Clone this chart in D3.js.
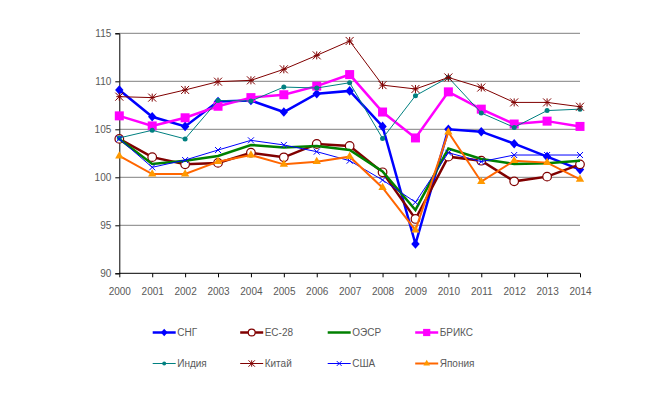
<!DOCTYPE html>
<html><head><meta charset="utf-8">
<script src="https://cdn.jsdelivr.net/npm/d3@7"></script>
<style>body{margin:0;background:#fff;} text{font-family:"Liberation Sans",Arial,sans-serif;}</style>
</head><body>
<svg id="c" width="648" height="397"></svg>
<script>
const years = ["2000","2001","2002","2003","2004","2005","2006","2007","2008","2009","2010","2011","2012","2013","2014"];
const yTicks = [90,95,100,105,110,115];
const cis   = [109.1,106.3,105.3,107.9,108.0,106.8,108.7,109.0,105.3,93.05,105.0,104.75,103.5,102.15,100.8];
const eu28  = [104.0,102.1,101.35,101.5,102.56,102.08,103.47,103.26,100.52,95.66,102.15,101.73,99.58,100.07,101.35];
const oecd  = [104.0,101.39,101.73,102.22,103.37,103.1,103.26,102.84,100.6,96.6,103.0,101.9,101.39,101.46,101.73];
const brics = [106.4,105.35,106.2,107.4,108.3,108.6,109.5,110.7,106.8,104.1,108.9,107.1,105.55,105.85,105.3];
const india = [104.1,104.9,104.0,108.0,107.95,109.4,109.3,109.85,104.05,108.5,110.4,106.7,105.2,106.95,107.1];
const china = [108.4,108.3,109.1,109.96,110.1,111.25,112.7,114.2,109.6,109.2,110.4,109.35,107.8,107.8,107.35];
const usa   = [104.0,101.04,101.8,102.84,103.85,103.37,102.67,101.73,99.72,97.4,102.56,101.63,102.32,102.32,102.32];
const japan = [102.22,100.34,100.34,101.63,102.32,101.35,101.63,102.15,98.92,94.5,104.7,99.54,101.73,101.53,99.79];

const series = [
  {name:"СНГ", values:cis, color:"#0000FF", width:2.5, marker:"diamond", mfill:"#0000FF", mstroke:"#0000FF"},
  {name:"ЕС-28", values:eu28, color:"#800000", width:2.5, marker:"circle", mfill:"#FFFFFF", mstroke:"#800000"},
  {name:"ОЭСР", values:oecd, color:"#008000", width:2.5, marker:"none"},
  {name:"БРИКС", values:brics, color:"#FF00FF", width:2.5, marker:"square", mfill:"#FF00FF", mstroke:"#FF00FF"},
  {name:"Индия", values:india, color:"#008080", width:1, marker:"dot", mfill:"#008080", mstroke:"#008080"},
  {name:"Китай", values:china, color:"#800000", width:1, marker:"star", mfill:"none", mstroke:"#800000"},
  {name:"США", values:usa, color:"#0000FF", width:1, marker:"x", mfill:"none", mstroke:"#0000FF"},
  {name:"Япония", values:japan, color:"#FF6600", width:2, marker:"triangle", mfill:"#FF9900", mstroke:"#FF9900"}
];

const svg = d3.select("#c");
const L = 119.3, R = 580, T = 33.3, B = 273.3;
const x = d3.scalePoint().domain(years).range([L, R]);
const y = d3.scaleLinear().domain([90,115]).range([B, T]);
const tc = "#595959";

svg.append("g").selectAll("line").data(yTicks.filter(d=>d>90)).join("line")
  .attr("x1", L).attr("x2", R).attr("y1", d=>y(d)).attr("y2", d=>y(d))
  .attr("stroke", "#808080").attr("stroke-width", 1);

const ya = svg.append("g").attr("transform", `translate(${L},0)`)
  .call(d3.axisLeft(y).tickValues(yTicks).tickSize(4).tickPadding(4));
ya.select(".domain").attr("stroke","#000");
ya.selectAll(".tick line").attr("stroke","#000");
ya.selectAll("text").attr("fill",tc).style("font-size","10px");

const xa = svg.append("g").attr("transform", `translate(0,${B})`)
  .call(d3.axisBottom(x).tickSize(4).tickPadding(11));
xa.select(".domain").attr("stroke","#000").attr("d", `M${L},0H${R}`);
xa.selectAll(".tick line").attr("stroke","#000");
xa.selectAll("text").attr("fill",tc).style("font-size","10px");

function drawMarker(g, s, cx, cy, scale) {
  scale = scale || 1;
  switch (s.marker) {
    case "diamond": {
      const rx = 4.2*scale, ry = 4.8*scale;
      g.append("path").attr("d", `M${cx},${cy-ry}L${cx+rx},${cy}L${cx},${cy+ry}L${cx-rx},${cy}Z`)
        .attr("fill", s.mfill); break;
    }
    case "circle":
      g.append("circle").attr("cx",cx).attr("cy",cy).attr("r",4.3*scale).attr("fill",s.mfill).attr("stroke",s.mstroke).attr("stroke-width",1.2); break;
    case "square": {
      const h = 4.5*scale;
      g.append("rect").attr("x",cx-h).attr("y",cy-h).attr("width",2*h).attr("height",2*h).attr("fill",s.mfill); break;
    }
    case "dot":
      g.append("circle").attr("cx",cx).attr("cy",cy).attr("r",2.5*scale).attr("fill",s.mfill); break;
    case "star": {
      const r = 4*scale;
      g.append("path").attr("d",`M${cx},${cy-r}V${cy+r}M${cx-r},${cy-r}L${cx+r},${cy+r}M${cx+r},${cy-r}L${cx-r},${cy+r}M${cx-r+1},${cy}H${cx+r-1}`)
        .attr("stroke",s.mstroke).attr("stroke-width",1).attr("fill","none"); break;
    }
    case "x": {
      const r = 3*scale;
      g.append("path").attr("d",`M${cx-r},${cy-r}L${cx+r},${cy+r}M${cx+r},${cy-r}L${cx-r},${cy+r}`)
        .attr("stroke",s.mstroke).attr("stroke-width",1).attr("fill","none"); break;
    }
    case "triangle":
      g.append("path").attr("d", d3.symbol(d3.symbolTriangle, 30*scale*scale)()).attr("transform",`translate(${cx},${cy})`)
        .attr("fill", s.mfill); break;
  }
}

const line = d3.line().x((d,i)=>x(years[i])).y(d=>y(d));
series.forEach(s => {
  const g = svg.append("g");
  g.append("path").datum(s.values).attr("d", line).attr("fill","none")
    .attr("stroke", s.color).attr("stroke-width", s.width).attr("stroke-linejoin","miter");
  s.values.forEach((v,i) => drawMarker(g, s, x(years[i]), y(v)));
});

const lx0 = 152.7, colW = 87.5, rowY = [332.5, 363.5];
series.forEach((s,i) => {
  const col = i % 4, row = Math.floor(i/4);
  const gx = lx0 + col*colW, gy = rowY[row];
  const g = svg.append("g");
  g.append("line").attr("x1",gx).attr("x2",gx+23).attr("y1",gy).attr("y2",gy)
    .attr("stroke",s.color).attr("stroke-width",s.width);
  drawMarker(g, s, gx+11.5, gy, 0.8);
  g.append("text").attr("x",gx+24.5).attr("y",gy+3.5).attr("fill",tc).style("font-size","10px").text(s.name);
});
</script>
</body></html>
